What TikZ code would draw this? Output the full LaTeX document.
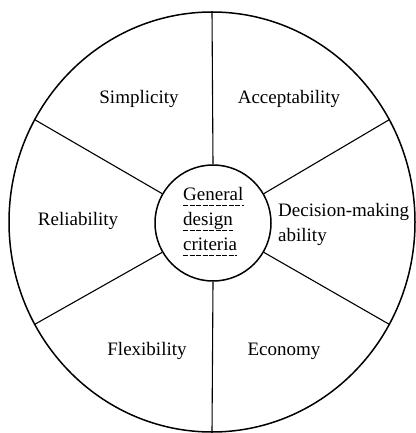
\documentclass[tikz,border=0pt]{standalone}
\usepackage{fontspec}
\setmainfont{Liberation Serif}
\usetikzlibrary{shapes.geometric}
\begin{document}
\begin{tikzpicture}
[
    x=1pt, y=-1pt,
    label text/.style={font=\fontsize{19}{25}\selectfont, inner sep=0pt},
    spoke/.style={line width=1.1pt},
    uline/.style={line width=0.5pt, dash pattern=on 5pt off 1.5pt}
]
    \useasboundingbox (0,0) rectangle (415,433);

    \node [draw, ellipse, line width=1.5pt, minimum width=406pt, minimum height=420pt, inner sep=0pt] (rim) at (212,222) {};
    \node [draw, circle, line width=1.5pt, minimum size=116pt, inner sep=0pt] (hub) at (213,223) {};

    \foreach \a in {30,90,...,330}
        \draw [spoke] (hub.\a) -- (rim.\a);

    \node [label text, anchor=base west] (gen) at (183,200) {General};
    \node [label text, anchor=base west] (des) at (183,225) {design};
    \node [label text, anchor=base west] (cri) at (183,250) {criteria};
    \foreach \w in {gen,des,cri}
        \draw [uline] ([yshift=-5pt]\w.base west) -- ([yshift=-5pt]\w.base east);

    \node [label text, anchor=base] (simp) at (139,103) {Simplicity};
    \node [label text, anchor=base] (acc) at (289,103) {Acceptability};
    \node [label text, anchor=base] (rel) at (78,225) {Reliability};
    \node [label text, anchor=north west, align=left] (dec) at (278,203) {Decision-making\\ability};
    \node [label text, anchor=base] (flex) at (147,355) {Flexibility};
    \node [label text, anchor=base] (eco) at (284,355) {Economy};
\end{tikzpicture}
\end{document}
